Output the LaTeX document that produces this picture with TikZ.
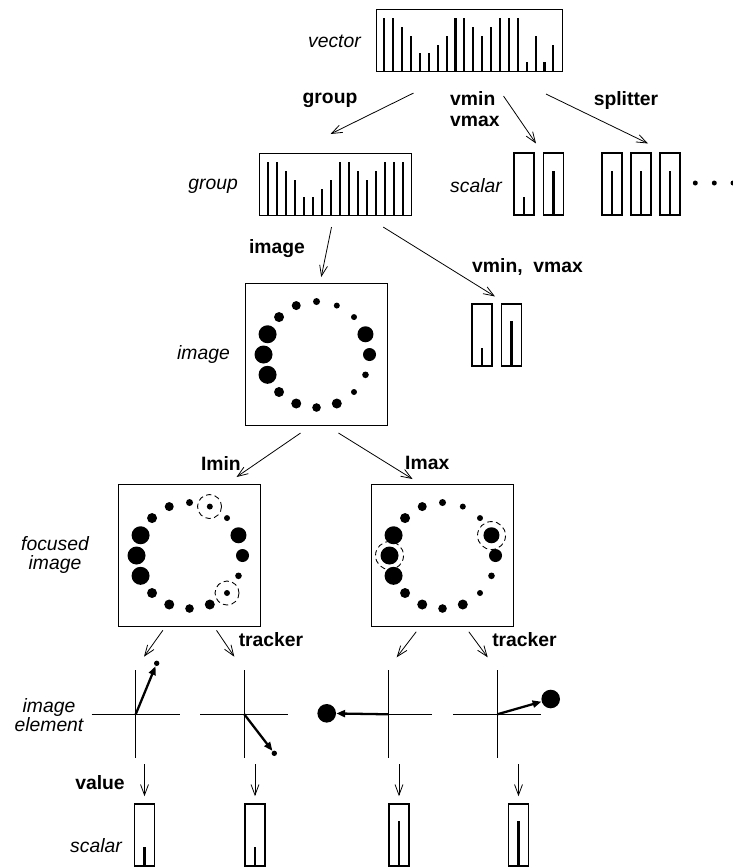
\documentclass[tikz,border=0pt]{standalone}
\usepackage{fontspec}
\setmainfont{Liberation Sans}
\usetikzlibrary{arrows.meta}

\newdimen\pxu \pxu=0.02cm

% ring of 16 pixels of an image
\newcommand\dotring[1]{%
  \foreach \r [count=\k from 0] in {3.5,3,3,8,6.5,3.3,3,5,4.3,5,5,9,9,9,5,4.5}
    \fill (#1) ++({22.5*\k-90}:53) circle (\r);}

% scalar box with its value bar
\newcommand\scal[3]{%
  \node[sbox] (#1) at (#2) {};
  \draw[bar] (#1.south) -- ++(0,-#3);}

\begin{document}
\begin{tikzpicture}[
  x=0.02cm, y=-0.02cm,
  font=\fontsize{11}{12}\selectfont,
  box/.style={draw,line width=0.6pt,inner sep=0pt,anchor=north west},
  sbox/.style={draw,line width=0.6pt,inner sep=0pt,minimum width=20\pxu,minimum height=62\pxu},
  bar/.style={line width=1.2pt},
  arr/.style={-{Straight Barb[length=6pt,width=4.5pt]},line width=0.45pt},
  vecarr/.style={-{Triangle[length=5pt,width=4pt]},line width=1.3pt},
  axis/.style={line width=0.6pt},
  dot/.style={circle,fill,inner sep=0pt},
  focus/.style={dash pattern=on 3pt off 2pt,line width=0.5pt},
  lab/.style={font=\fontsize{11}{12}\selectfont\bfseries},
  tag/.style={font=\fontsize{11}{11}\selectfont\itshape},
]
\useasboundingbox (0,0) rectangle (733,867);

% vector and group
\node[box,minimum width=186\pxu,minimum height=62\pxu] (vec) at (376,9) {};
\foreach \h [count=\i from 0] in {6,6,5,4,2,2,3,4,6,6,5,4,5,6,6,6,1,4,1,3}
  \draw[bar] ({384.3+8.9*\i},71) -- ++(0,{-8.8*\h});
\node[tag,anchor=east] (tvec) at (367,41) {vector};

\node[box,minimum width=152\pxu,minimum height=62\pxu] (grp) at (259,153) {};
\foreach \h [count=\i from 0] in {6,6,5,4,2,2,3,4,6,6,5,4,5,6,6,6}
  \draw[bar] ({268.3+9*\i},215) -- ++(0,{-8.8*\h});
\node[tag,anchor=east] (tgrp) at (244,186) {group};

% scalars from the vector
\scal{smin}{524,184}{18.5}
\scal{smax}{553.5,184}{45}
\scal{sp1}{612,184}{45}
\scal{sp2}{641,184}{45}
\scal{sp3}{670,184}{45}
\foreach \x in {695.3,714.3,733} \fill (\x,183) circle (2.5);
\node[tag,anchor=west] (tsc) at (444,186) {scalar};

\draw[arr] ([shift={(-56,21)}]vec.south) -- ([shift={(-5,-19)}]grp.north);
\draw[arr] ([shift={(34,24)}]vec.south) -- ([shift={(12,-9)}]smin.north);
\draw[arr] ([shift={(-17,22)}]vec.south east) -- ([shift={(7,-9)}]sp2.north);
\node[lab] (lgrp) at (330,100) {group};
\node[lab,anchor=west,align=left] (lvm) at (444,109.5) {vmin\\vmax};
\node[lab] (lsp) at (626,100) {splitter};

% image of the group
\node[box,minimum width=142\pxu,minimum height=142\pxu] (img) at (245,283) {};
\dotring{img.center}
\node[tag,anchor=east] (timg) at (236,354) {image};

\scal{tmin}{482,335}{19}
\scal{tmax}{511.5,335}{45.5}

\draw[arr] ([shift={(-4,11)}]grp.south) -- ([shift={(4.7,-6)}]img.north);
\draw[arr] ([shift={(47.7,11)}]grp.south) -- ([shift={(13,-7)}]tmin.north);
\node[lab] (limg) at (277,249) {image};
\node[lab,anchor=west] (lvm2) at (466,267) {vmin,\ \ vmax};

% focused images
\node[box,minimum width=142\pxu,minimum height=142\pxu] (fmin) at (118,484) {};
\dotring{fmin.center}
\draw[focus] ([shift={(20,-49)}]fmin.center) circle (12);
\draw[focus] ([shift={(37.5,37.5)}]fmin.center) circle (12);
\node[box,minimum width=142\pxu,minimum height=142\pxu] (fmax) at (371,484) {};
\dotring{fmax.center}
\draw[focus] ([shift={(-53,0)}]fmax.center) circle (14);
\draw[focus] ([shift={(49,-20)}]fmax.center) circle (14);
\node[tag,align=center] (tfoc) at (55,555) {focused\\image};

\draw[arr] ([shift={(-16,7)}]img.south) -- ([shift={(47,-7)}]fmin.north);
\draw[arr] ([shift={(22,7)}]img.south) -- ([shift={(-30,-5)}]fmax.north);
\node[lab,anchor=east] (lmin) at (247,463) {Imin};
\node[lab,anchor=west] (lmax) at (399,463) {Imax};

% image elements
\coordinate (c1) at (135.7,714.3);
\coordinate (c2) at (244.3,714.3);
\coordinate (c3) at (388.3,714.3);
\coordinate (c4) at (497.3,714.3);
\foreach \c in {c1,c2,c3,c4} {
  \draw[axis] ([shift={(-44,0)}]\c) -- ([shift={(44,0)}]\c);
  \draw[axis] ([shift={(0,-44)}]\c) -- ([shift={(0,44)}]\c);
}
\node[dot,minimum size=5.4\pxu] (d1) at (156.7,663.3) {};
\node[dot,minimum size=5.4\pxu] (d2) at (274.3,753.3) {};
\node[dot,minimum size=18.6\pxu] (d3) at (326.7,713.3) {};
\node[dot,minimum size=18.6\pxu] (d4) at (550.7,699) {};
\draw[vecarr] (c1) -- (d1);
\draw[vecarr] (c2) -- (d2);
\draw[vecarr] (c3) -- (d3);
\draw[vecarr] (c4) -- (d4);
\node[tag,align=center] (tel) at (49,715) {image\\element};

\draw[arr] ([shift={(-26.7,3.3)}]fmin.south) -- ([shift={(8.3,-57.6)}]c1);
\draw[arr] ([shift={(27,3.3)}]fmin.south) -- ([shift={(-10,-57.6)}]c2);
\draw[arr] ([shift={(-26.3,4.7)}]fmax.south) -- ([shift={(8.4,-57)}]c3);
\draw[arr] ([shift={(26.3,4.7)}]fmax.south) -- ([shift={(-9.6,-57)}]c4);
\node[lab] (ltr1) at (271,640) {tracker};
\node[lab] (ltr2) at (524.5,640) {tracker};

% values
\scal{v1}{144.5,835}{20}
\scal{v2}{255,835}{20}
\scal{v3}{399,835}{45.5}
\scal{v4}{518.5,835}{45.5}
\foreach \v in {v1,v2,v3,v4}
  \draw[arr] ([shift={(0,-39)}]\v.north) -- ([shift={(0,-7.3)}]\v.north);
\node[lab] (lval) at (100,783) {value};
\node[tag] (tsc2) at (96,846) {scalar};
\end{tikzpicture}
\end{document}
